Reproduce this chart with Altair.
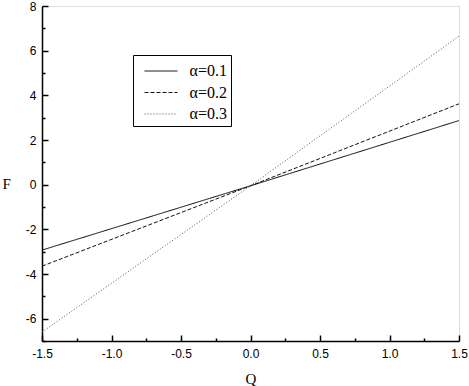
import altair as alt
import pandas as pd

# Data
q_values = [-1.5, 0.0, 1.5]
f_a01 = [-2.93, -0.05, 2.87]
f_a02 = [-3.65, -0.05, 3.62]
f_a03 = [-6.6, -0.05, 6.65]
series_names = ["α=0.1", "α=0.2", "α=0.3"]

y_major = [-6, -4, -2, 0, 2, 4, 6, 8]
y_all = list(range(-7, 9))
x_major = [-1.5, -1.0, -0.5, 0.0, 0.5, 1.0, 1.5]
x_all = [-1.5, -1.25, -1.0, -0.75, -0.5, -0.25, 0.0, 0.25, 0.5, 0.75, 1.0, 1.25, 1.5]

rows = []
for name, vals in zip(series_names, [f_a01, f_a02, f_a03]):
    for q, f in zip(q_values, vals):
        rows.append({"Q": q, "F": f, "series": name})
df = pd.DataFrame(rows)

W, H = 417, 335
xscale = alt.Scale(domain=[-1.5, 1.5], nice=False, zero=False)
yscale = alt.Scale(domain=[-7, 8], nice=False, zero=False)

label_font = "Liberation Sans"
title_font = "Liberation Serif"
minus_fix = "replace(datum.label, '\u2212', '-')"

x_label_axis = alt.Axis(
    values=x_major, format=".1f", labelExpr=minus_fix, ticks=False, tickSize=0, grid=False,
    labelFont=label_font, labelFontSize=12, labelColor="black", labelPadding=7,
    labelFlush=False, labelOverlap=False,
    domainColor="black", domainWidth=1.5,
    title="Q", titleFont=title_font, titleFontSize=15, titleFontWeight="normal",
    titleColor="black", titleY=37, titleBaseline="middle",
)
y_label_axis = alt.Axis(
    values=y_major, format="d", labelExpr=minus_fix, ticks=False, tickSize=0, grid=False,
    labelFont=label_font, labelFontSize=12, labelColor="black", labelPadding=6,
    labelFlush=False, labelOverlap=False,
    domainColor="black", domainWidth=1.5,
    title="F", titleFont=title_font, titleFontSize=15, titleFontWeight="normal",
    titleColor="black", titleAngle=0, titleX=-40, titleY=177,
    titleAlign="left", titleBaseline="middle",
)

x_tick_axis = alt.Axis(
    orient="top", offset=-H, values=x_all, labels=False, grid=False, domain=False,
    tickColor="black", tickWidth=1.5,
    tickSize={"condition": {"test": "abs(datum.value*2 - round(datum.value*2)) < 0.001", "value": 6}, "value": 3},
    title=None,
)
y_tick_axis = alt.Axis(
    orient="right", offset=-W, values=y_all, labels=False, grid=False, domain=False,
    tickColor="black", tickWidth=1.5,
    tickSize={"condition": {"test": "abs(datum.value) % 2 === 0", "value": 6}, "value": 3},
    title=None,
)

dash_scale = alt.Scale(domain=series_names, range=[[1, 0], [4, 2], [1, 2]])
color_scale = alt.Scale(domain=series_names, range=["#000000", "#111111", "#555555"])

legend = alt.Legend(
    title=" ", titleFontSize=4, titlePadding=0,
    orient="none", legendX=91, legendY=49,
    symbolType="M-1,0H3.125", symbolSize=256, symbolStrokeWidth=1, symbolOffset=7.5,
    labelFont=title_font, labelFontSize=16, labelColor="black",
    strokeColor="black", padding=3.5, rowPadding=4.5, labelOffset=28.5,
    fillColor="white",
)

lines = alt.Chart(df).mark_line(strokeWidth=1).encode(
    x=alt.X("Q:Q", scale=xscale, axis=x_label_axis),
    y=alt.Y("F:Q", scale=yscale, axis=y_label_axis),
    strokeDash=alt.StrokeDash("series:N", scale=dash_scale, legend=legend),
    color=alt.Color("series:N", scale=color_scale, legend=legend),
    detail="series:N",
)

tick_layer = alt.Chart(df).mark_point(opacity=0).encode(
    x=alt.X("Q:Q", scale=xscale, axis=x_tick_axis),
    y=alt.Y("F:Q", scale=yscale, axis=y_tick_axis),
)

chart = alt.layer(lines, tick_layer).resolve_axis(
    x="independent", y="independent"
).properties(
    width=W, height=H,
    autosize=alt.AutoSizeParams(type="none"),
    padding={"left": 42, "top": 6, "right": 10, "bottom": 45},
).configure_view(
    stroke="black", strokeWidth=1.5
).configure(background="white")

chart.save("out.html", embed_options={"renderer": "svg", "actions": False})
